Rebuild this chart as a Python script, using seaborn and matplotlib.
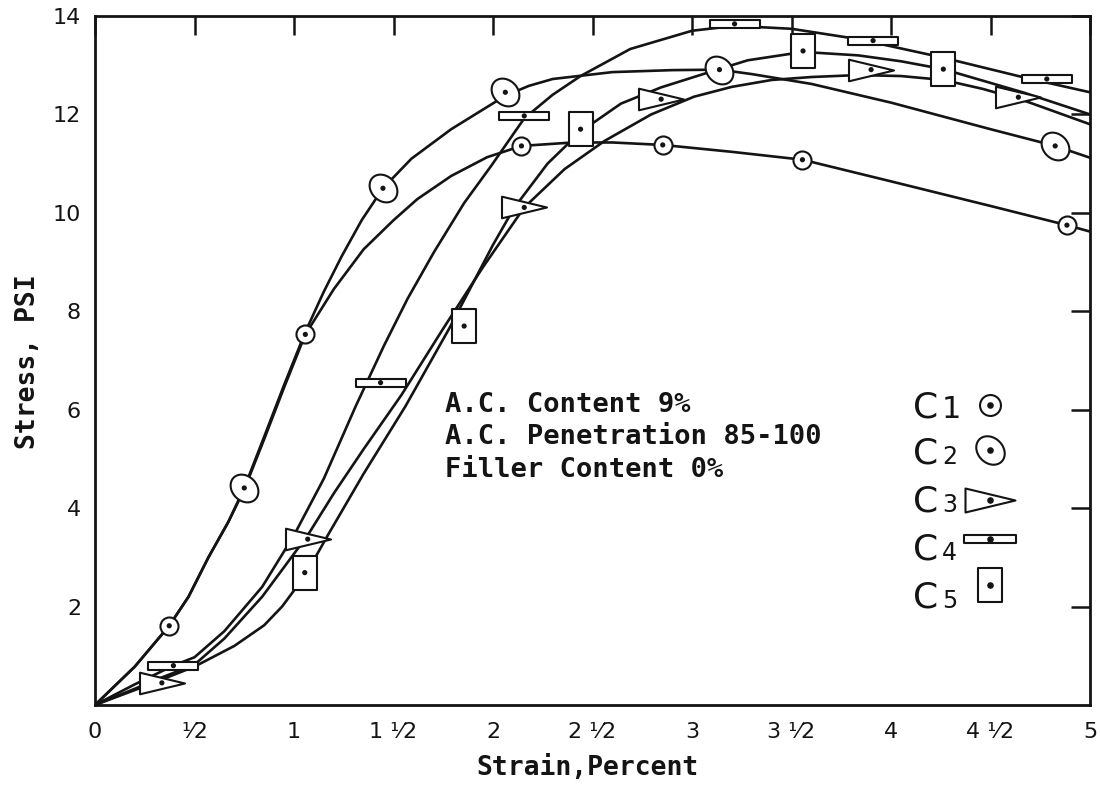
import numpy as np
import pandas as pd
import matplotlib
matplotlib.use("Agg")
import matplotlib.pyplot as plt
from matplotlib.path import Path
import seaborn as sns

# ---------------- data ----------------
strain_ticks = [0, 0.5, 1, 1.5, 2, 2.5, 3, 3.5, 4, 4.5, 5]
strain_tick_labels = ["0", "¹⁄2", "1", "1 ¹⁄2", "2", "2 ¹⁄2", "3", "3 ¹⁄2", "4", "4 ¹⁄2", "5"]
stress_ticks = [2, 4, 6, 8, 10, 12, 14]
stress_tick_labels = ["2", "4", "6", "8", "10", "12", "14"]
series_names = ["C1", "C2", "C3", "C4", "C5"]

# measured points (marker positions)
c1_pts_x = [0.373, 1.057, 2.143, 2.853, 3.555, 4.884]
c1_pts_y = [1.61, 7.53, 11.36, 11.38, 11.08, 9.75]
c2_pts_x = [0.75, 1.447, 2.062, 3.138, 4.825]
c2_pts_y = [4.41, 10.5, 12.45, 12.91, 11.36]
c3_pts_x = [0.336, 1.069, 2.157, 2.845, 3.90, 4.64]
c3_pts_y = [0.45, 3.37, 10.11, 12.31, 12.91, 12.35]
c4_pts_x = [0.394, 1.435, 2.157, 3.214, 3.91, 4.783]
c4_pts_y = [0.80, 6.55, 11.97, 13.84, 13.50, 12.72]
c5_pts_x = [1.054, 1.855, 2.44, 3.558, 4.263]
c5_pts_y = [2.69, 7.70, 11.70, 13.29, 12.92]

# hand-drawn curves
c1_curve_x = [0, 0.2, 0.373, 0.47, 0.57, 0.67, 0.75, 0.85, 0.95, 1.057, 1.2, 1.35, 1.5,
              1.62, 1.79, 1.97, 2.143, 2.4, 2.6, 2.853, 3.2, 3.555, 4.0, 4.5, 4.884, 5.0]
c1_curve_y = [0, 0.78, 1.61, 2.2, 3.0, 3.72, 4.38, 5.4, 6.45, 7.53, 8.45, 9.26, 9.85,
              10.28, 10.75, 11.13, 11.36, 11.43, 11.43, 11.38, 11.24, 11.08, 10.64, 10.14, 9.75, 9.62]
c2_curve_x = [0, 0.2, 0.373, 0.47, 0.57, 0.67, 0.75, 0.85, 0.95, 1.057, 1.15, 1.24, 1.34,
              1.447, 1.59, 1.79, 1.93, 2.062, 2.18, 2.3, 2.6, 2.9, 3.138, 3.3, 3.6, 4.0,
              4.5, 4.825, 5.0]
c2_curve_y = [0, 0.78, 1.61, 2.2, 3.0, 3.72, 4.41, 5.45, 6.5, 7.58, 8.4, 9.12, 9.85,
              10.5, 11.1, 11.7, 12.05, 12.38, 12.58, 12.72, 12.86, 12.9, 12.91, 12.82, 12.62, 12.24,
              11.7, 11.36, 11.12]
c3_curve_x = [0, 0.2, 0.336, 0.5, 0.65, 0.84, 0.95, 1.069, 1.2, 1.35, 1.54, 1.75, 1.95,
              2.157, 2.36, 2.56, 2.795, 3.01, 3.2, 3.4, 3.6, 3.835, 4.05, 4.263, 4.46, 4.67, 5.0]
c3_curve_y = [0, 0.33, 0.56, 0.82, 1.35, 2.2, 2.8, 3.45, 4.3, 5.2, 6.3, 7.65, 8.9,
              10.11, 10.89, 11.46, 12.0, 12.36, 12.56, 12.7, 12.76, 12.8, 12.78, 12.7, 12.52, 12.28, 11.8]
c4_curve_x = [0, 0.2, 0.394, 0.5, 0.65, 0.84, 1.0, 1.15, 1.31, 1.452, 1.57, 1.703, 1.855,
              1.99, 2.157, 2.3, 2.44, 2.69, 3.0, 3.214, 3.5, 3.835, 4.255, 4.67, 5.0]
c4_curve_y = [0, 0.42, 0.8, 0.97, 1.5, 2.4, 3.45, 4.6, 6.07, 7.3, 8.25, 9.2, 10.2,
              10.95, 11.92, 12.4, 12.78, 13.33, 13.7, 13.8, 13.74, 13.53, 13.16, 12.75, 12.45]
c5_curve_x = [0, 0.25, 0.5, 0.7, 0.85, 0.94, 1.054, 1.17, 1.35, 1.56, 1.78, 2.0, 2.106,
              2.274, 2.44, 2.643, 2.845, 3.08, 3.28, 3.558, 3.835, 4.05, 4.263, 4.67, 5.0]
c5_curve_y = [0, 0.38, 0.78, 1.2, 1.62, 2.0, 2.62, 3.45, 4.7, 6.07, 7.65, 9.35, 10.1,
              11.0, 11.65, 12.22, 12.55, 12.85, 13.1, 13.27, 13.2, 13.08, 12.92, 12.44, 12.0]

notes = ["A.C. Content 9%", "A.C. Penetration 85-100", "Filler Content 0%"]

# ---------------- style ----------------
sns.set_theme(style="white")
plt.rcParams["font.family"] = ["DejaVu Sans"]
INK = "#141414"
MONO = "DejaVu Sans Mono"

# marker shapes
def ellipse_marker():
    t = np.linspace(0, 2 * np.pi, 41)
    ex, ey = np.cos(t), 0.8 * np.sin(t)
    a = np.deg2rad(-45)
    vx = ex * np.cos(a) - ey * np.sin(a)
    vy = ex * np.sin(a) + ey * np.cos(a)
    return Path(np.column_stack([vx, vy]), closed=True)

def closed(verts):
    verts = list(verts) + [verts[0]]
    codes = [Path.MOVETO] + [Path.LINETO] * (len(verts) - 2) + [Path.CLOSEPOLY]
    return Path(verts, codes)

M_ELLIPSE = ellipse_marker()
M_TRI = closed([(-1, 0.48), (1, 0), (-1, -0.48)])
M_FLAT = closed([(-1, 0.16), (1, 0.16), (1, -0.16), (-1, -0.16)])
M_RECT = closed([(-0.7, 1), (0.7, 1), (0.7, -1), (-0.7, -1)])

marker_styles = {
    "C1": ("o", 169, 227),
    "C2": (M_ELLIPSE, 400, 420),
    "C3": (M_TRI, 1050, 1296),
    "C4": (M_FLAT, 1296, 1400),
    "C5": (M_RECT, 566, 600),
}

pts = {
    "C1": (c1_pts_x, c1_pts_y), "C2": (c2_pts_x, c2_pts_y), "C3": (c3_pts_x, c3_pts_y),
    "C4": (c4_pts_x, c4_pts_y), "C5": (c5_pts_x, c5_pts_y),
}
curves = {
    "C1": (c1_curve_x, c1_curve_y), "C2": (c2_curve_x, c2_curve_y), "C3": (c3_curve_x, c3_curve_y),
    "C4": (c4_curve_x, c4_curve_y), "C5": (c5_curve_x, c5_curve_y),
}

curve_df = pd.concat(
    [pd.DataFrame({"strain": curves[n][0], "stress": curves[n][1], "series": n}) for n in series_names],
    ignore_index=True,
)

# ---------------- figure ----------------
fig = plt.figure(figsize=(11, 7.85), dpi=100)
ax = fig.add_axes([95 / 1100, 1 - 705 / 785, 995 / 1100, 689 / 785])

sns.lineplot(data=curve_df, x="strain", y="stress", units="series", estimator=None,
             sort=False, color=INK, linewidth=1.9, ax=ax, legend=False)

def hollow_scatter(x, y, marker, s):
    sns.scatterplot(x=x, y=y, marker=marker, s=s, color=INK, edgecolor=INK,
                    linewidth=1.5, ax=ax, legend=False, zorder=4)
    coll = ax.collections[-1]
    coll.set_facecolor("white")
    coll.set_edgecolor(INK)
    return coll

for n in series_names:
    mk, s_plot, _ = marker_styles[n]
    x, y = pts[n]
    hollow_scatter(x, y, mk, s_plot)
    sns.scatterplot(x=x, y=y, marker="o", s=14, color=INK, edgecolor="none",
                    ax=ax, legend=False, zorder=5)

ax.set_xlim(0, 5)
ax.set_ylim(0, 14)
ax.set_xticks(strain_ticks)
ax.set_xticklabels(strain_tick_labels)
ax.set_yticks(stress_ticks)
ax.set_yticklabels(stress_tick_labels)
ax.tick_params(axis="both", direction="in", length=14, width=1.8, color=INK,
               labelsize=16, labelcolor=INK, top=True, right=True)
ax.tick_params(axis="x", pad=12)
ax.tick_params(axis="y", pad=10)
for sp in ax.spines.values():
    sp.set_visible(True)
    sp.set_linewidth(2.0)
    sp.set_color(INK)
ax.set_xlabel("")
ax.set_ylabel("")
ax.grid(False)

# axis titles (typewriter style)
fig.text(588 / 1100, 1 - 775 / 785, "Strain,Percent", family=MONO, fontsize=19,
         fontweight="bold", color=INK, ha="center", va="baseline")
fig.text(28 / 1100, 1 - 362 / 785, "Stress, PSI", family=MONO, fontsize=19,
         fontweight="bold", color=INK, ha="center", va="center", rotation=90)

# annotation block
note_x = 445
note_baselines = [412, 444, 477]
for txt, by in zip(notes, note_baselines):
    fig.text(note_x / 1100, 1 - by / 785, txt, family=MONO, fontsize=19.5,
             fontweight="bold", color=INK, ha="left", va="baseline")

# hand-lettered key
key_marker_x = 990
key_marker_y = [405, 450, 500, 539, 585]
key_baselines = [418, 464, 512, 560, 608]
for n, my, by in zip(series_names, key_marker_y, key_baselines):
    fig.text(913 / 1100, 1 - by / 785, "C", fontsize=26, color=INK, ha="left", va="baseline")
    digit_size = 22 if n == "C1" else 17
    fig.text(942 / 1100, 1 - by / 785, n[1], fontsize=digit_size, color=INK,
             ha="left", va="baseline")
    mk, _, s_key = marker_styles[n]
    fx = (key_marker_x - 95) / 995
    fy = (705 - my) / 689
    ax.scatter([fx], [fy], marker=mk, s=s_key, facecolor="white", edgecolor=INK,
               linewidth=1.5, transform=ax.transAxes, zorder=6, clip_on=False)
    ax.scatter([fx], [fy], marker="o", s=14, color=INK, transform=ax.transAxes,
               zorder=7, clip_on=False)

fig.savefig("out.png", dpi=100, facecolor="white")
